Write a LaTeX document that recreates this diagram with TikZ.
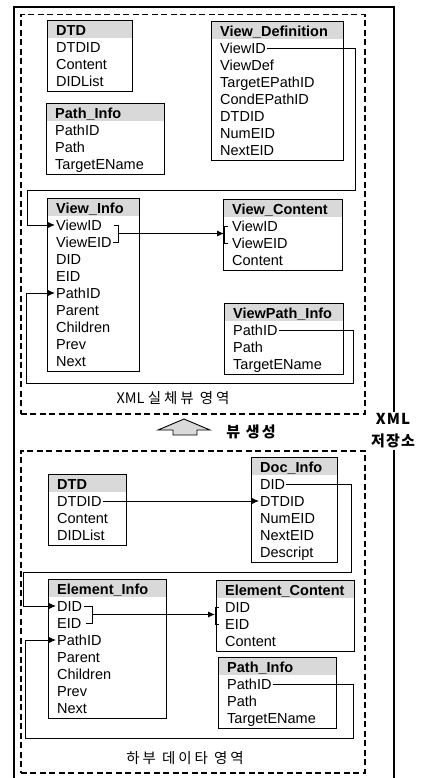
\documentclass[tikz,border=0pt]{standalone}
\usepackage{fontspec}
\setmainfont{Liberation Sans}
\newfontfamily\kr{Noto Sans CJK KR}
\usepackage{tikz}
\usetikzlibrary{arrows.meta,calc}

\newcommand{\fieldfont}{\fontsize{14.5}{17}\selectfont}
\newcommand{\areafont}{\kr\fontsize{14.5}{17}\selectfont}
\newcommand{\spread}[1]{{\addfontfeature{LetterSpace=20}#1}}

\tikzset{
  tbl/.style={draw, line width=1.3pt, inner sep=0pt, anchor=north west},
  tblhead/.style={fill=gray!30, inner sep=0pt, anchor=north west, minimum height=18pt},
  fld/.style={anchor=west, inner sep=0pt, text height=10.4pt, text depth=0pt, font=\fieldfont},
  link/.style={line width=0.9pt},
  area/.style={draw, line width=1.5pt, dash pattern=on 6pt off 3.5pt, inner sep=0pt, anchor=north west},
  frame/.style={line width=2.2pt},
}

% name, corner, width, header, fields
\newcommand{\dbtable}[5]{%
  \node[tblhead, minimum width=#3] (#1-hd) at (#2) {};
  \node[fld, font=\fieldfont\bfseries] (#1-0) at ([xshift=9pt, yshift=-10pt]#1-hd.north west) {#4};
  \foreach \fname [count=\i] in {#5} {
    \node[fld] (#1-\i) at ([xshift=9pt, yshift={-10-17*\i}]#1-hd.north west) {\fname};
    \xdef\nfld{\i}
  }
  \pgfmathsetmacro\tblh{20+17*\nfld}
  \node[tbl, minimum width=#3, minimum height=\tblh pt] (#1) at (#2) {};
}

\begin{document}
\begin{tikzpicture}[x=1pt, y=-1pt, >={Latex[length=7pt,width=6pt]}]
  \useasboundingbox (0,0) rectangle (422,778);

  % outer store frame
  \node[font=\kr\fontsize{15}{22}\selectfont\bfseries\addfontfeature{LetterSpace=8}, align=center, inner sep=1pt] (store) at (393,431) {XML\\저장소};
  \coordinate (frtr) at (394,7);
  \draw[frame] (14,790) -- (14,7) -- (frtr) -- (frtr |- store.north);
  \draw[frame] (frtr |- store.south) -- (394,790);

  % areas
  \node[area, minimum width=344pt, minimum height=399pt] (viewarea) at (20,14) {};
  \node[area, minimum width=344pt, minimum height=322pt] (basearea) at (20,450) {};
  \node[font=\areafont] (viewlbl) at (173,398) {XML \spread{실체뷰 영역}};
  \node[font=\areafont] (baselbl) at (185,758) {\spread{하부 데이타 영역}};

  % view generation
  \draw[link, fill=gray!30] (158,430) -- (184,419) -- (210,430) -- (197,430) -- (197,435) -- (173,435) -- (173,430) -- cycle;
  \node[font=\kr\fontsize{15}{17}\selectfont\bfseries\addfontfeature{LetterSpace=15}] (genlbl) at (251,432) {뷰 생성};

  % XML view area
  \dbtable{tdtd}{47,20}{85pt}{DTD}{DTDID,Content,DIDList}
  \dbtable{tpath}{46,103}{118pt}{Path\_Info}{PathID,Path,TargetEName}
  \dbtable{vdef}{211,21}{132pt}{View\_Definition}{ViewID,ViewDef,TargetEPathID,CondEPathID,DTDID,NumEID,NextEID}
  \dbtable{vinfo}{47,198}{92pt}{View\_Info}{ViewID,ViewEID,DID,EID,PathID,Parent,Children,Prev,Next}
  \dbtable{vcont}{223,199}{119pt}{View\_Content}{ViewID,ViewEID,Content}
  \dbtable{vpath}{224,303}{119pt}{ViewPath\_Info}{PathID,Path,TargetEName}

  \draw[link,->] ([xshift=1pt]vdef-1.east) -| (355,190) -- (27,190) |- ([xshift=-1pt]vinfo-1.west);
  \draw[link,->] ([xshift=1pt]vpath-1.east) -| (353,383) -- (26,383) |- ([xshift=-1pt]vinfo-5.west);

  \coordinate (vik) at ($(vinfo-2.east)+(7,0)$);
  \coordinate (vim) at ($(vik |- vinfo-1.east)!0.5!(vik |- vinfo-2.east)$);
  \draw[link] ($(vik |- vinfo-1.east)+(-5,0)$) -- (vik |- vinfo-1.east) -- (vik |- vinfo-2.east) -- ($(vinfo-2.east)+(1,0)$);
  \coordinate (vck) at ($(vcont.west)+(1,0)$);
  \draw[link] ($(vck |- vcont-1.east)+(4,0)$) -- (vck |- vcont-1.east) -- (vck |- vcont-2.east) -- ++(4,0);
  \draw[link,->] (vim) -- (vck |- vim);

  % base data area
  \dbtable{bdtd}{48,474}{78pt}{DTD}{DTDID,Content,DIDList}
  \dbtable{doc}{251,457}{86pt}{Doc\_Info}{DID,DTDID,NumEID,NextEID,Descript}
  \dbtable{einfo}{48,579}{118pt}{Element\_Info}{DID,EID,PathID,Parent,Children,Prev,Next}
  \dbtable{econt}{216,580}{138pt}{Element\_Content}{DID,EID,Content}
  \dbtable{bpath}{218,657}{118pt}{Path\_Info}{PathID,Path,TargetEName}

  \draw[link,->] ([xshift=1pt]bdtd-1.east) -- ([xshift=-1pt]doc-2.west);
  \draw[link,->] ([xshift=1pt]doc-1.east) -| (351,572) -- (23,572) |- ([xshift=-1pt]einfo-1.west);
  \draw[link,->] ([xshift=1pt]bpath-1.east) -| (353,738) -- (25,738) |- ([xshift=-1pt]einfo-3.west);

  \coordinate (eik) at ($(einfo-1.east)+(10,0)$);
  \coordinate (eim) at ($(eik |- einfo-1.east)!0.5!(eik |- einfo-2.east)$);
  \draw[link] ($(einfo-1.east)+(2,0)$) -- (eik |- einfo-1.east) -- (eik |- einfo-2.east) -- ($(einfo-2.east)+(4,0)$);
  \coordinate (eck) at ($(econt.west)+(-1,0)$);
  \draw[link] ($(eck |- econt-1.east)+(4,0)$) -- (eck |- econt-1.east) -- (eck |- econt-2.east) -- ++(4,0);
  \draw[link,->] (eim) -- (eck |- eim);
\end{tikzpicture}
\end{document}
